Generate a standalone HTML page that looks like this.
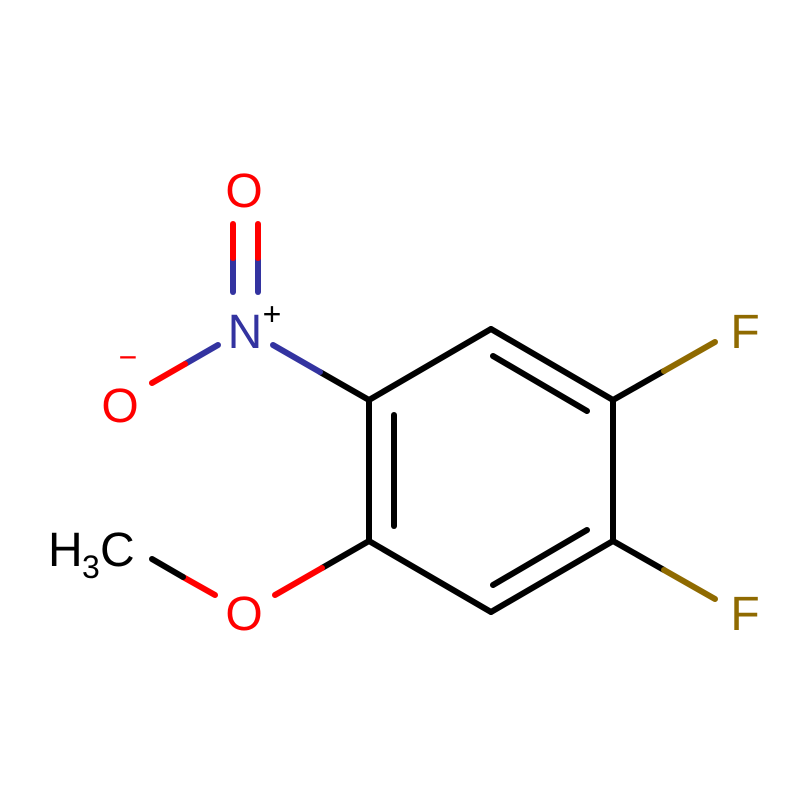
<!DOCTYPE html>
<html><head><meta charset="utf-8"><style>html,body{margin:0;padding:0;background:#fff}</style></head>
<body>
<svg width="800" height="800" viewBox="0 0 800 800" xmlns="http://www.w3.org/2000/svg">
<rect width="800" height="800" fill="#fff"/>
<g stroke-width="6" stroke-linecap="round" fill="none">
<!-- ring -->
<line x1="369" y1="400" x2="491" y2="329" stroke="#000"/>
<line x1="491" y1="329" x2="613" y2="400" stroke="#000"/>
<line x1="613" y1="400" x2="613" y2="541" stroke="#000"/>
<line x1="613" y1="541" x2="491" y2="612" stroke="#000"/>
<line x1="491" y1="612" x2="369" y2="541" stroke="#000"/>
<line x1="369" y1="541" x2="369" y2="400" stroke="#000"/>
<line x1="493" y1="356" x2="587" y2="411" stroke="#000"/>
<line x1="587" y1="530" x2="493" y2="585" stroke="#000"/>
<line x1="394" y1="415" x2="394" y2="526" stroke="#000"/>
<!-- C-N -->
<line x1="369" y1="400" x2="320" y2="372" stroke="#000"/>
<line x1="320" y1="372" x2="273" y2="345" stroke="#3333a0"/>
<!-- N=O -->
<line x1="233" y1="292" x2="233" y2="258" stroke="#3333a0"/>
<line x1="233" y1="258" x2="233" y2="224" stroke="#f00"/>
<line x1="258" y1="292" x2="258" y2="258" stroke="#3333a0"/>
<line x1="258" y1="258" x2="258" y2="224" stroke="#f00"/>
<!-- N-O- -->
<line x1="218" y1="345" x2="185" y2="364" stroke="#3333a0"/>
<line x1="185" y1="364" x2="152" y2="383" stroke="#f00"/>
<!-- F bonds -->
<line x1="613" y1="400" x2="664" y2="371" stroke="#000"/>
<line x1="664" y1="371" x2="715" y2="342" stroke="#8f6a00"/>
<line x1="613" y1="541" x2="664" y2="570" stroke="#000"/>
<line x1="664" y1="570" x2="715" y2="599" stroke="#8f6a00"/>
<!-- OMe -->
<line x1="369" y1="541" x2="322" y2="568" stroke="#000"/>
<line x1="322" y1="568" x2="275" y2="595" stroke="#f00"/>
<line x1="215" y1="595" x2="183" y2="577" stroke="#f00"/>
<line x1="183" y1="577" x2="152" y2="559" stroke="#000"/>
</g>
<g font-family="Liberation Sans, sans-serif" font-size="48">
<text x="244" y="207" fill="#f00" text-anchor="middle">O</text>
<text x="245" y="348" fill="#3333a0" text-anchor="middle">N</text>
<text x="272" y="325" fill="#000" font-size="32" text-anchor="middle">+</text>
<text x="120" y="422" fill="#f00" text-anchor="middle">O</text>
<text x="128" y="368" fill="#f00" font-size="32" text-anchor="middle">−</text>
<text x="745" y="348" fill="#8f6a00" text-anchor="middle">F</text>
<text x="745" y="630" fill="#8f6a00" text-anchor="middle">F</text>
<text x="244" y="630" fill="#f00" text-anchor="middle">O</text>
<text x="48" y="566" fill="#000">H</text>
<text x="82" y="578" fill="#000" font-size="32">3</text>
<text x="100" y="566" fill="#000">C</text>
</g>
</svg>
</body></html>
